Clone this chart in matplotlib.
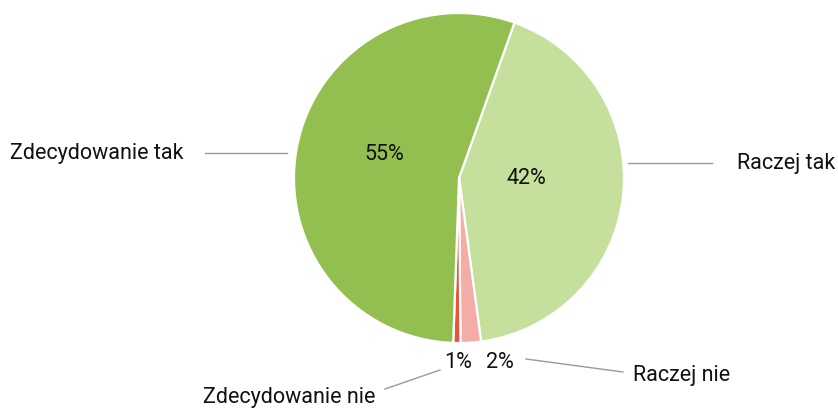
import numpy as np
import matplotlib
matplotlib.use('Agg')
import matplotlib.pyplot as plt

plt.rcParams['font.family'] = ['Roboto', 'DejaVu Sans']

labels = ['Raczej tak', 'Raczej nie', 'Zdecydowanie nie', 'Zdecydowanie tak']
values = [42.4, 2.0, 0.7, 54.9]
colors = ['#c5df9c', '#f3aca6', '#e8543c', '#93bf50']

W, H = 838, 408
cx, cy, r = 459, H - 178, 165

fig = plt.figure(figsize=(W / 100, H / 100), dpi=100)
ax = fig.add_axes([0, 0, 1, 1])

wedges, texts, autotexts = ax.pie(
    values, colors=colors, startangle=70.35, counterclock=False,
    center=(cx, cy), radius=r, autopct='%1.0f%%', pctdistance=0.45,
    wedgeprops=dict(edgecolor='white', linewidth=1.6),
    textprops=dict(fontsize=15.5, color='#111111'))

# where the percentages sit (pixel layout, y from top)
pct_pos = {0: (526, 179), 1: (500, 363), 2: (458, 363), 3: (384, 155)}
for i, (x, y) in pct_pos.items():
    autotexts[i].set_position((x, H - y))

# outside labels with leader lines (layout only)
label_layout = {
    0: dict(line=[(628, 163), (712, 163)], txt=(737, 163), ha='left'),
    1: dict(line=[(526, 359), (623, 372)], txt=(633, 376), ha='left'),
    2: dict(line=[(385, 389), (440, 370)], txt=(375, 398), ha='right'),
    3: dict(line=[(205, 153), (287, 153)], txt=(183, 153), ha='right'),
}
for i, lay in label_layout.items():
    (x0, y0), (x1, y1) = lay['line']
    ax.plot([x0, x1], [H - y0, H - y1], color='#999999', lw=1)
    ax.text(lay['txt'][0], H - lay['txt'][1], labels[i], ha=lay['ha'],
            va='center', fontsize=15.5, color='#111111')

ax.set_xlim(0, W)
ax.set_ylim(0, H)
ax.set_aspect('equal')
ax.axis('off')

fig.savefig('out.png', dpi=100)
